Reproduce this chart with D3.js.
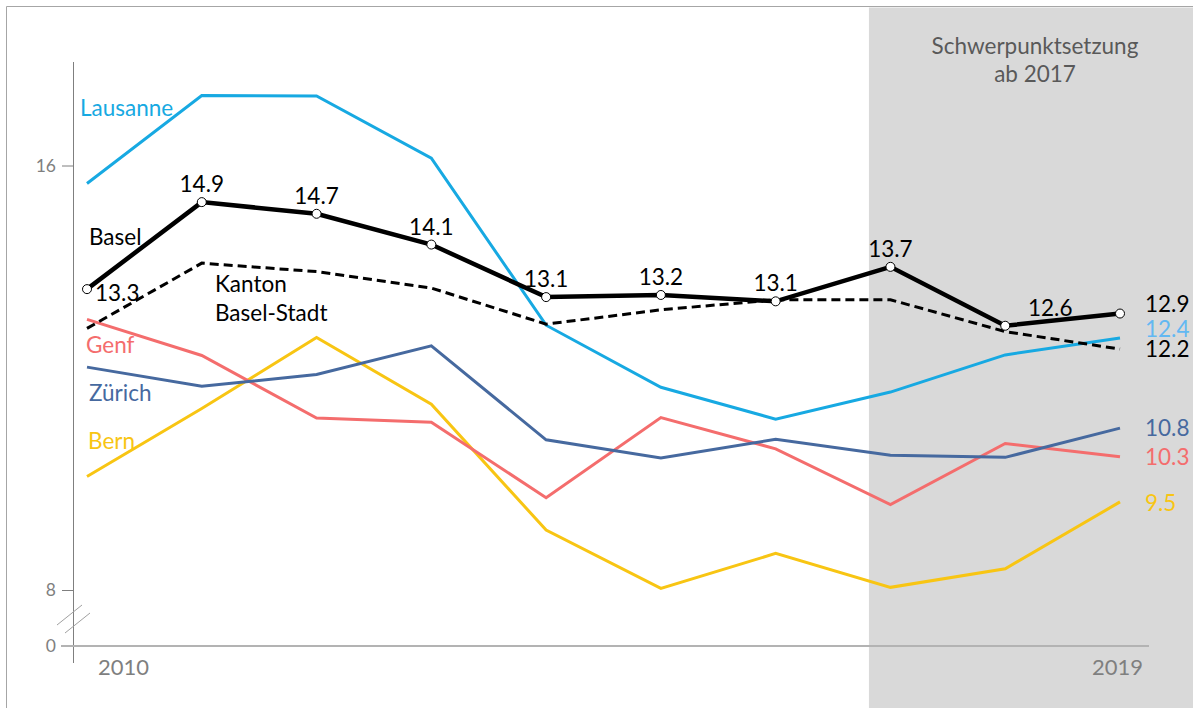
<!DOCTYPE html>
<html>
<head>
<meta charset="utf-8">
<script src="https://cdn.jsdelivr.net/npm/d3@7"></script>
<style>
  body { margin: 0; background: #fff; }
  svg { display: block; font-family: Lato, "Open Sans", sans-serif; }
</style>
</head>
<body>
<svg id="chart" width="1193" height="708"></svg>
<script>
const years = [2010, 2011, 2012, 2013, 2014, 2015, 2016, 2017, 2018, 2019];

// values (y axis is broken between 0 and 8)
const basel    = [13.67, 15.31, 15.09, 14.51, 13.52, 13.56, 13.44, 14.09, 12.98, 13.21];
const kanton   = [12.93, 14.16, 14.00, 13.69, 13.01, 13.28, 13.47, 13.47, 12.87, 12.54];
const lausanne = [15.66, 17.32, 17.31, 16.14, 12.99, 11.82, 11.22, 11.73, 12.43, 12.75];
const genf     = [13.10, 12.42, 11.24, 11.16,  9.74, 11.25, 10.66,  9.61, 10.76, 10.51];
const zuerich  = [12.20, 11.84, 12.06, 12.60, 10.83, 10.49, 10.84, 10.54, 10.50, 11.05];
const bern     = [10.14, 11.42, 12.76, 11.50,  9.13,  8.03,  8.69,  8.05,  8.40,  9.66];

const baselLabels = ["13.3", "14.9", "14.7", "14.1", "13.1", "13.2", "13.1", "13.7", "12.6", "12.9"];
const endLabels = ["12.9", "12.2", "12.4", "10.3", "10.8", "9.5"];
const seriesNames = ["Basel", "Kanton Basel-Stadt", "Lausanne", "Genf", "Zürich", "Bern"];
const yTicks = [0, 8, 16];
const xTicks = [2010, 2019];
const focusStart = 2017;

const svg = d3.select("#chart");
const grey = "#7f7f7f";
const fs = "22.5px";

const x = d3.scaleLinear().domain([2010, 2019]).range([87, 1120]);
const y = d3.scaleLinear().domain([0, 8, 16]).range([646, 590, 165.5]);

// outer frame
svg.append("path")
    .attr("d", "M6.5,708V6.5H1193")
    .attr("fill", "none")
    .attr("stroke", "#a6a6a6")
    .attr("stroke-width", 1);

// shaded focus period
const shadeX = x(focusStart) - 21.5;
svg.append("rect")
    .attr("x", shadeX).attr("y", 7.5)
    .attr("width", 1193 - shadeX).attr("height", 708)
    .attr("fill", "#d9d9d9");

svg.append("text")
    .attr("x", 1035).attr("y", 54)
    .attr("text-anchor", "middle")
    .attr("fill", "#595959")
    .style("font-size", "22.5px")
    .selectAll("tspan")
    .data(["Schwerpunktsetzung", "ab 2017"])
    .enter().append("tspan")
    .attr("x", 1035)
    .attr("dy", (d, i) => i ? 28 : 0)
    .text(d => d);

// Y axis
const yAxis = svg.append("g")
    .attr("transform", "translate(73,0)")
    .call(d3.axisLeft(y).tickValues(yTicks).tickSize(11).tickPadding(6));
yAxis.select(".domain").remove();
yAxis.selectAll("line").attr("stroke", grey);
yAxis.selectAll("text")
    .attr("fill", grey)
    .style("font-size", "17.5px")
    .style("font-family", "Lato, sans-serif");

svg.append("line")
    .attr("x1", 73.5).attr("x2", 73.5)
    .attr("y1", 62).attr("y2", 663)
    .attr("stroke", grey);

// axis break marks
const yb = (y(0) + y(8)) / 2 + 1;
[-4, 4].forEach(off => {
    svg.append("line")
        .attr("x1", 61 + off).attr("y1", yb + 10 + off)
        .attr("x2", 86 + off).attr("y2", yb - 10 + off)
        .attr("stroke", "#a0a0a0").attr("stroke-width", 1);
});

// X axis baseline
svg.append("line")
    .attr("x1", 61).attr("x2", 1149)
    .attr("y1", y(0)).attr("y2", y(0))
    .attr("stroke", "#b3b3b3").attr("stroke-width", 2);

const xAxis = svg.append("g")
    .attr("transform", "translate(0," + y(0) + ")")
    .call(d3.axisBottom(x).tickValues(xTicks).tickFormat(d3.format("d")).tickSize(0).tickPadding(13));
xAxis.select(".domain").remove();
xAxis.selectAll("text")
    .attr("fill", grey)
    .attr("dx", d => d === 2010 ? 36 : -3)
    .style("font-size", "22px")
    .style("font-family", "Lato, sans-serif");

// lines
const line = d3.line()
    .x((d, i) => x(years[i]))
    .y(d => y(d));

const series = [
    { values: lausanne, color: "#17a9e2", width: 3 },
    { values: bern,     color: "#f8c513", width: 3 },
    { values: genf,     color: "#f46d6d", width: 3 },
    { values: zuerich,  color: "#46699f", width: 3 },
    { values: kanton,   color: "#000", width: 3, dash: "9,5" },
    { values: basel,    color: "#000", width: 4.5 }
];

svg.append("g")
    .selectAll("path")
    .data(series)
    .enter().append("path")
    .attr("d", d => line(d.values))
    .attr("fill", "none")
    .attr("stroke", d => d.color)
    .attr("stroke-width", d => d.width)
    .attr("stroke-dasharray", d => d.dash || null)
    .attr("stroke-linejoin", "miter");

// Basel markers
svg.append("g")
    .selectAll("circle")
    .data(basel)
    .enter().append("circle")
    .attr("cx", (d, i) => x(years[i]))
    .attr("cy", d => y(d))
    .attr("r", 4.5)
    .attr("fill", "#fff")
    .attr("stroke", "#000")
    .attr("stroke-width", 1);

// Basel value labels
svg.append("g")
    .selectAll("text")
    .data(basel)
    .enter().append("text")
    .attr("x", (d, i) => x(years[i]) + (i === 0 ? 8 : i === 8 ? 45 : 0))
    .attr("y", (d, i) => y(d) + (i === 0 ? 12 : -10))
    .attr("text-anchor", (d, i) => i === 0 ? "start" : "middle")
    .attr("fill", "#000")
    .style("font-size", fs)
    .text((d, i) => i === 9 ? "" : baselLabels[i]);

// end labels
const endInfo = [
    { values: basel,    color: "#000",    dy: -2 },
    { values: kanton,   color: "#000",    dy: 8 },
    { values: lausanne, color: "#62b8f2", dy: -1 },
    { values: genf,     color: "#f46d6d", dy: 8 },
    { values: zuerich,  color: "#46699f", dy: 8 },
    { values: bern,     color: "#f8c513", dy: 9 }
];
svg.append("g")
    .selectAll("text")
    .data(endInfo)
    .enter().append("text")
    .attr("x", 1145)
    .attr("y", d => y(d.values[d.values.length - 1]) + d.dy)
    .attr("fill", d => d.color)
    .style("font-size", fs)
    .text((d, i) => endLabels[i]);

// series names
const nameInfo = [
    { lines: [seriesNames[2]], x: 80,  y: 116, color: "#17a9e2" },
    { lines: [seriesNames[0]], x: 89,  y: 245, color: "#000" },
    { lines: ["Kanton", "Basel-Stadt"], x: 215, y: 292, color: "#000" },
    { lines: [seriesNames[3]], x: 86,  y: 353, color: "#f46d6d" },
    { lines: [seriesNames[4]], x: 89,  y: 401, color: "#46699f" },
    { lines: [seriesNames[5]], x: 88,  y: 449, color: "#f8c513" }
];
nameInfo.forEach(n => {
    svg.append("text")
        .attr("x", n.x).attr("y", n.y)
        .attr("fill", n.color)
        .style("font-size", fs)
        .selectAll("tspan")
        .data(n.lines)
        .enter().append("tspan")
        .attr("x", n.x)
        .attr("dy", (d, i) => i ? 29 : 0)
        .text(d => d);
});
</script>
</body>
</html>
